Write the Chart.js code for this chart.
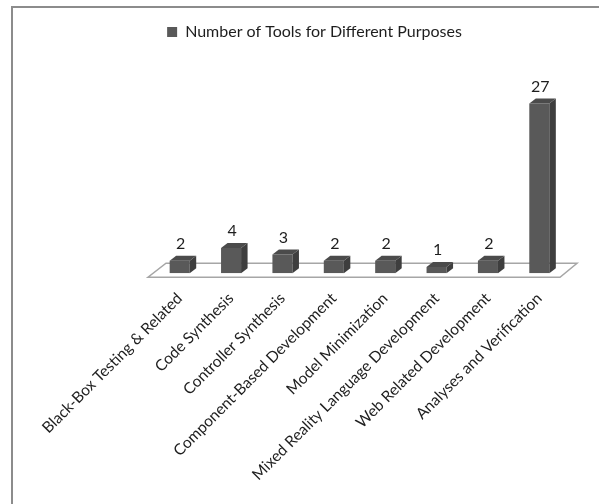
<!DOCTYPE html>
<html>
<head>
<meta charset="utf-8">
<script src="https://cdn.jsdelivr.net/npm/chart.js@4.4.0/dist/chart.umd.min.js"></script>
<style>
  html, body { margin: 0; padding: 0; background: #fff; overflow: hidden; }
  #wrap { position: relative; width: 599px; height: 504px; }
  #frame {
    position: absolute; left: 11px; top: 6px; right: -10px; bottom: -10px;
    border-left: 2px solid #8c8c8c; border-top: 2px solid #8c8c8c;
  }
  canvas { position: absolute; left: 0; top: 0; }
</style>
</head>
<body>
<div id="wrap">
  <div id="frame"></div>
  <canvas id="myChart" width="599" height="504"></canvas>
</div>
<script>
const categories = [
  'Black-Box Testing & Related',
  'Code Synthesis',
  'Controller Synthesis',
  'Component-Based Development',
  'Model Minimization',
  'Mixed Reality Language Development',
  'Web Related Development',
  'Analyses and Verification'
];
const toolCounts = [2, 4, 3, 2, 2, 1, 2, 27];
const seriesName = 'Number of Tools for Different Purposes';

const FONT = 'Lato, "Open Sans", sans-serif';
const DX = 6.5, DY = 5;

// fake 3D: floor, side and top faces, value labels
const bars3d = {
  id: 'bars3d',
  beforeDatasetsDraw(chart) {
    const ctx = chart.ctx;
    const area = chart.chartArea;
    const base = chart.scales.y.getPixelForValue(0);
    ctx.save();
    ctx.beginPath();
    ctx.moveTo(area.left - 6, base + 4);
    ctx.lineTo(area.right - 5, base + 4);
    ctx.lineTo(area.right + 12, base - 10);
    ctx.lineTo(area.left + 12, base - 10);
    ctx.closePath();
    ctx.fillStyle = '#fff';
    ctx.fill();
    ctx.strokeStyle = '#a6a6a6';
    ctx.lineWidth = 1.5;
    ctx.stroke();
    ctx.restore();
  },
  afterDatasetsDraw(chart) {
    const ctx = chart.ctx;
    const meta = chart.getDatasetMeta(0);
    ctx.save();
    meta.data.forEach((bar, i) => {
      const p = bar.getProps(['x', 'y', 'base', 'width'], true);
      const l = p.x - p.width / 2, r = p.x + p.width / 2;
      ctx.fillStyle = '#3e3e3e';
      ctx.beginPath();
      ctx.moveTo(r, p.y);
      ctx.lineTo(r + DX, p.y - DY);
      ctx.lineTo(r + DX, p.base - DY);
      ctx.lineTo(r, p.base);
      ctx.closePath();
      ctx.fill();
      ctx.fillStyle = '#4b4b4b';
      ctx.beginPath();
      ctx.moveTo(l, p.y);
      ctx.lineTo(l + DX, p.y - DY);
      ctx.lineTo(r + DX, p.y - DY);
      ctx.lineTo(r, p.y);
      ctx.closePath();
      ctx.fill();

      ctx.fillStyle = '#1e1e1e';
      ctx.font = '16px ' + FONT;
      ctx.textAlign = 'center';
      ctx.textBaseline = 'middle';
      ctx.fillText(String(toolCounts[i]), p.x + 1, p.y - 17);
    });
    ctx.restore();
  }
};

new Chart(document.getElementById('myChart').getContext('2d'), {
  type: 'bar',
  data: {
    labels: categories,
    datasets: [{
      label: seriesName,
      data: toolCounts,
      backgroundColor: '#595959',
      borderWidth: 0,
      barPercentage: 0.39,
      categoryPercentage: 1.0
    }]
  },
  options: {
    responsive: false,
    animation: false,
    layout: {
      padding: { left: 31, right: 1, top: 14, bottom: 4 }
    },
    scales: {
      x: {
        grid: { display: false, drawTicks: false },
        border: { display: false },
        ticks: {
          minRotation: 45,
          maxRotation: 45,
          autoSkip: false,
          padding: 16,
          color: '#1e1e1e',
          font: { family: FONT, size: 15.5 }
        }
      },
      y: {
        position: 'left',
        min: 0,
        max: 35.5,
        grid: { display: false, drawTicks: false },
        border: { display: false },
        ticks: { display: false },
        afterFit(scale) { scale.width = 123; }
      },
      yRight: {
        type: 'linear',
        position: 'right',
        grid: { display: false, drawTicks: false },
        border: { display: false },
        ticks: { display: false },
        afterFit(scale) { scale.width = 33; }
      }
    },
    plugins: {
      legend: {
        labels: {
          boxWidth: 10,
          boxHeight: 10,
          color: '#1e1e1e',
          font: { family: FONT, size: 16 }
        }
      },
      tooltip: { enabled: false }
    }
  },
  plugins: [bars3d]
});
</script>
</body>
</html>
